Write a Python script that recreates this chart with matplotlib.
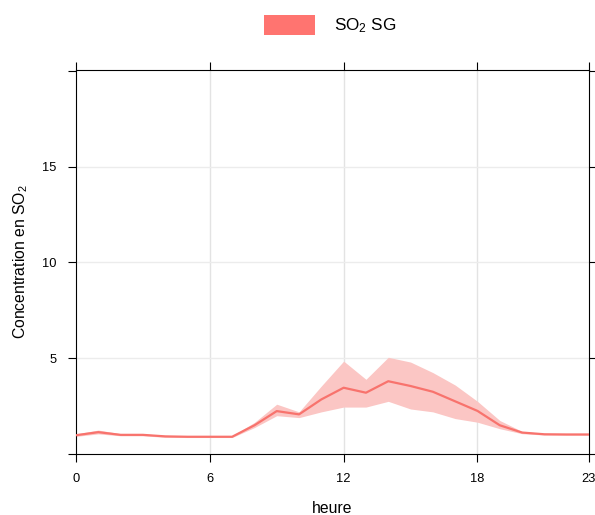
import matplotlib
matplotlib.use("Agg")
import matplotlib.pyplot as plt
from matplotlib.patches import Patch

plt.rcParams['font.family'] = ['Liberation Sans', 'DejaVu Sans']
plt.rcParams['mathtext.default'] = 'regular'

hours = list(range(24))
mean_so2 = [0.98, 1.14, 1.0, 1.0, 0.92, 0.9, 0.9, 0.9, 1.5, 2.24, 2.07, 2.85,
            3.46, 3.2, 3.8, 3.55, 3.25, 2.75, 2.25, 1.5, 1.12, 1.03, 1.02, 1.02]
lower_so2 = [0.92, 1.05, 0.95, 0.95, 0.87, 0.86, 0.86, 0.86, 1.38, 2.0, 1.9, 2.2,
             2.45, 2.45, 2.75, 2.35, 2.2, 1.85, 1.66, 1.32, 1.06, 0.99, 0.98, 0.98]
upper_so2 = [1.05, 1.25, 1.06, 1.05, 0.97, 0.95, 0.95, 0.95, 1.65, 2.6, 2.2, 3.55,
             4.85, 3.9, 5.05, 4.8, 4.25, 3.6, 2.75, 1.75, 1.18, 1.07, 1.06, 1.06]
series_label = "SO$_2$ SG"
xticks = [0, 6, 12, 18, 23]
yticks = [0, 5, 10, 15, 20]
ytick_labels = ["", "5", "10", "15", ""]

line_col = '#f8736d'
band_col = '#fbc6c4'

fig = plt.figure(figsize=(5.95, 5.15), dpi=100)
ax = fig.add_axes([76/595, 1-454/515, 513/595, 384/515])

ax.fill_between(hours, lower_so2, upper_so2, color=band_col, lw=0, zorder=2)
ax.plot(hours, mean_so2, color=line_col, lw=1.6, zorder=3)

ax.set_xlim(0, 23)
ax.set_ylim(0, 20.05)
ax.set_xticks(xticks)
ax.set_yticks(yticks)
ax.set_yticklabels(ytick_labels)
for v in [6, 12, 18]:
    ax.axvline(v, color='#e3e3e3', lw=1.0, zorder=1)
for v in [5, 10, 15]:
    ax.axhline(v, color='#ececec', lw=1.0, zorder=1)

ax.tick_params(axis='both', which='both', direction='out', length=6, width=0.8,
               labelsize=9.3, color='black', labelcolor='black', pad=8,
               top=True, right=True, labeltop=False, labelright=False)
for s in ax.spines.values():
    s.set_linewidth(0.8)
    s.set_color('black')

ax.set_xlabel('heure', fontsize=11.3, labelpad=11)
ax.set_ylabel('Concentration en SO$_2$', fontsize=11.3, labelpad=8.5)

handle = Patch(facecolor='#ff7470', edgecolor='none')
fig.legend([handle], [series_label], loc='center', bbox_to_anchor=(330/595, 1-25/515),
           frameon=False, fontsize=12.3, handlelength=3.0, handleheight=1.4,
           handletextpad=1.1)

fig.savefig('out.png', dpi=100)
